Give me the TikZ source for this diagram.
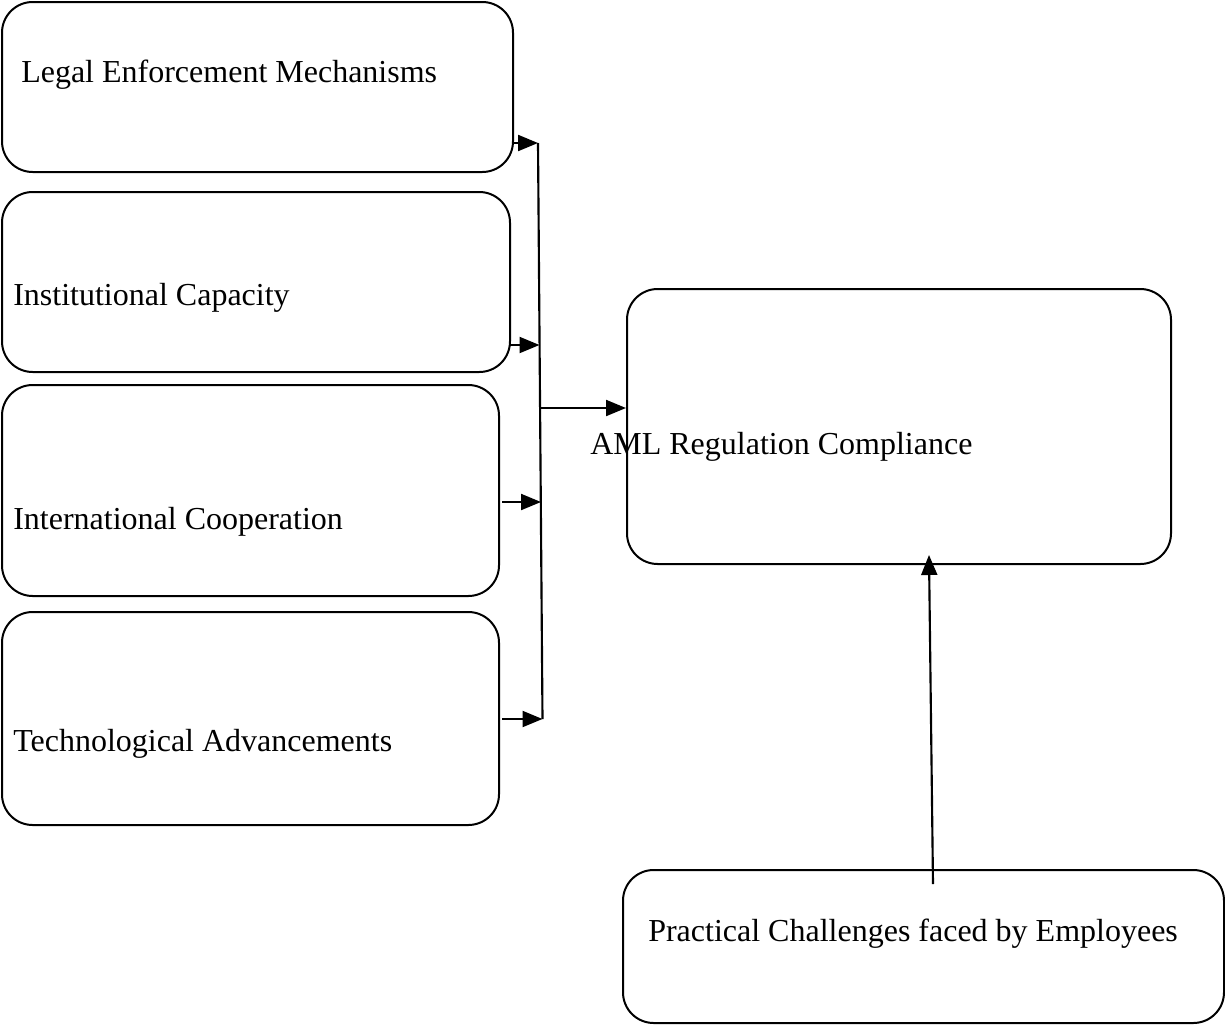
\documentclass[tikz,border=0pt]{standalone}
\usepackage{fontspec}
\setmainfont{Liberation Serif}
\usetikzlibrary{arrows.meta}
\begin{document}
\begin{tikzpicture}[x=0.75pt,y=-0.75pt,
  box/.style={draw=black,line width=1.5pt,rounded corners=23pt,rectangle,inner sep=0pt},
  lbl/.style={anchor=base west,inner sep=0pt,font=\fontsize{24}{29}\selectfont},
  arr/.style={line width=1.6pt,-{Triangle[length=15pt,width=12pt]}},
  bus/.style={line width=1.6pt}]
\useasboundingbox (0,0) rectangle (1225,1025);
% boxes
\node[box,minimum width=383.25pt,minimum height=127.5pt] (b1) at (257.5,87) {};
\node[box,minimum width=381pt,minimum height=135pt] (b2) at (256,282) {};
\node[box,minimum width=372.75pt,minimum height=158.25pt] (b3) at (250.5,490.5) {};
\node[box,minimum width=372.75pt,minimum height=159.75pt] (b4) at (250.5,718.5) {};
\node[box,minimum width=408pt,minimum height=206.25pt] (aml) at (899,426.5) {};
\node[box,minimum width=450.75pt,minimum height=114.75pt] (pc) at (923.5,946.5) {};
% labels
\node[lbl] (t1) at (21,82) {Legal Enforcement Mechanisms};
\node[lbl] (t2) at (13,305) {Institutional Capacity};
\node[lbl] (t3) at (13,529) {International Cooperation};
\node[lbl] (t4) at (13,751) {Technological Advancements};
\node[lbl] (t5) at (590,454) {AML Regulation Compliance};
\node[lbl] (t6) at (648,941) {Practical Challenges faced by Employees};
% bus coordinates
\coordinate (bt) at (538,143);
\coordinate (bb) at (542.5,719);
\coordinate (s1) at (b1.east |- bt);
\coordinate (s2) at (510,345);
\coordinate (e2) at (539.5,345);
\coordinate (s3) at (502,502);
\coordinate (e3) at (541,502);
\coordinate (s4) at (502,719);
\coordinate (m) at (539,408);
\coordinate (pt) at (933,884);
\coordinate (pe) at (929,555);
% connectors
\draw[bus] (bt) -- (bb);
\draw[arr] (s1) -- (bt);
\draw[arr] (s2) -- (e2);
\draw[arr] (s3) -- (e3);
\draw[arr] (s4) -- (bb);
\draw[arr] (m) -- (aml.west |- m);
\draw[arr] (pt) -- (pe);
\end{tikzpicture}
\end{document}
